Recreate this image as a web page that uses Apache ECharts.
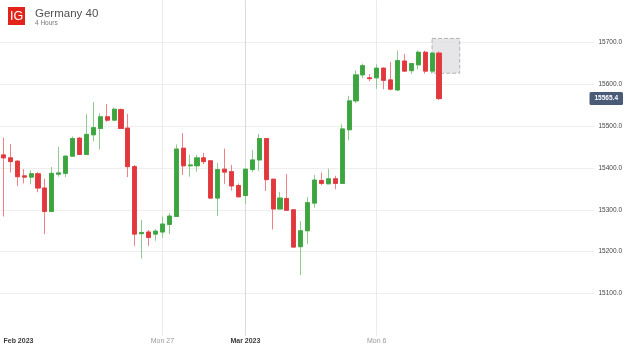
<!DOCTYPE html>
<html>
<head>
<meta charset="utf-8">
<script src="https://cdn.jsdelivr.net/npm/echarts@6/dist/echarts.min.js"></script>
<style>
  html, body { margin: 0; padding: 0; background: #fff; }
  #chart { width: 625px; height: 347px; }
</style>
</head>
<body>
<div id="chart"></div>
<script>
// 4 hour candles, Germany 40
var opens  = [15431,15424,15416,15381,15378,15386,15352,15296,15385,15387,15428,15471,15432,15479,15494,15522,
              15514,15539,15495,15403,15243,15247,15242,15247,15265,15284,15447,15405,15405,15424,15417,15328,
              15397,15391,15358,15334,15396,15419,15470,15373,15302,15327,15300,15212,15250,15316,15370,15362,
              15374,15363,15491,15560,15622,15615,15615,15638,15610,15586,15655,15632,15646,15676,15631,15674];
var closes = [15424,15415,15379,15378,15386,15352,15296,15387,15388,15428,15470,15432,15480,15496,15522,15514,
              15540,15494,15403,15242,15246,15234,15249,15266,15285,15445,15405,15407,15424,15415,15328,15396,
              15390,15357,15331,15397,15419,15470,15372,15302,15328,15299,15211,15250,15317,15371,15363,15374,
              15363,15493,15560,15622,15644,15613,15638,15609,15588,15656,15631,15649,15676,15631,15674,15565.4];
var lows   = [15284,15389,15357,15363,15361,15342,15242,15294,15379,15378,15427,15431,15431,15463,15444,15510,
              15513,15493,15378,15214,15184,15214,15226,15233,15242,15283,15383,15379,15391,15409,15327,15285,
              15362,15346,15330,15314,15390,15393,15345,15253,15301,15297,15210,15144,15218,15305,15359,15362,
              15349,15362,15466,15555,15614,15607,15589,15588,15585,15584,15629,15624,15635,15625,15626,15562];
var highs  = [15472,15457,15419,15397,15394,15390,15374,15402,15450,15430,15475,15474,15528,15557,15530,15552,
              15544,15542,15529,15407,15276,15252,15254,15284,15292,15456,15483,15431,15431,15436,15418,15412,
              15446,15407,15363,15398,15443,15481,15471,15374,15343,15385,15301,15273,15330,15383,15389,15398,
              15381,15504,15572,15633,15649,15624,15647,15640,15653,15680,15672,15650,15680,15680,15675,15678];
var lastPrice = 15565.4;

// x tick labels (index into the candle list) and y range
var xTickIndex = [0, 23, 35, 54];
var xTickText  = ['Feb 2023', 'Mon 27', 'Mar 2023', 'Mon 6'];
var xTickMajor = [true, false, true, false];
var yMin = 15000, yMax = 15800, yStep = 100;

// box near the last candles
var boxTop = 15709, boxBottom = 15626;

// candle times: 4h steps, market closed Saturday until Sunday 20:00
function buildTimes(count) {
  var out = [];
  var t = Date.UTC(2023, 1, 21, 8);
  while (out.length < count) {
    var d = new Date(t);
    var day = d.getUTCDay(), h = d.getUTCHours();
    if (!(day === 6 || (day === 0 && h < 20))) {
      out.push(d.toISOString().slice(0, 16).replace('T', ' '));
    }
    t += 4 * 3600 * 1000;
  }
  return out;
}
var times = buildTimes(86);

var wickData = opens.map(function (o, i) { return [o, closes[i], lows[i], highs[i]]; });
var bodyData = opens.map(function (o, i) {
  return [o, closes[i], Math.min(o, closes[i]), Math.max(o, closes[i])];
});

// vertical grid lines at the labelled days (not at the first label)
var dayLines = [];
xTickIndex.forEach(function (idx, k) {
  if (idx === 0) return;
  dayLines.push({ xAxis: times[idx], lineStyle: { color: xTickMajor[k] ? '#dadada' : '#ebebeb' } });
});

var font = 'Liberation Sans, Arial, sans-serif';
var chart = echarts.init(document.getElementById('chart'));

var option = {
  animation: false,
  textStyle: { fontFamily: font },
  title: {
    text: 'Germany 40',
    subtext: '4 Hours',
    left: 30,
    top: 3,
    itemGap: 0,
    textStyle: { fontSize: 11.5, fontWeight: 'normal', color: '#505050', fontFamily: font },
    subtextStyle: { fontSize: 6.5, color: '#777', fontFamily: font }
  },
  graphic: [{
    type: 'group',
    left: 8,
    top: 7,
    children: [
      { type: 'rect', shape: { x: 0, y: 0, width: 17, height: 18 }, style: { fill: '#e2231a' } },
      { type: 'text', x: 8.5, y: 9.5, style: { text: 'IG', fill: '#fff', fontSize: 12.5, fontFamily: font, align: 'center', verticalAlign: 'middle' } }
    ]
  }],
  grid: { left: -1.67, right: 30.26, top: 0.3, bottom: 11.5 },
  xAxis: {
    type: 'category',
    data: times,
    boundaryGap: true,
    axisLine: { show: false },
    axisTick: { show: false },
    splitLine: { show: false },
    axisLabel: {
      interval: function (index) { return xTickIndex.indexOf(index) >= 0; },
      margin: 2,
      fontSize: 7,
      alignMinLabel: 'left',
      formatter: function (v, index) {
        var k = xTickIndex.indexOf(index);
        if (k < 0) return '';
        return (xTickMajor[k] ? '{major|' : '{minor|') + xTickText[k] + '}';
      },
      rich: {
        major: { fontSize: 7, fontWeight: 'bold', color: '#3a3a3a', fontFamily: font },
        minor: { fontSize: 7, color: '#9a9a9a', fontFamily: font }
      }
    }
  },
  yAxis: {
    type: 'value',
    position: 'right',
    min: yMin,
    max: yMax,
    interval: yStep,
    axisLine: { show: false },
    axisTick: { show: false },
    axisLabel: {
      showMinLabel: false,
      showMaxLabel: false,
      margin: 4,
      fontSize: 6.5,
      color: '#444',
      formatter: function (v) { return v.toFixed(1); }
    },
    splitLine: { showMinLine: false, showMaxLine: false, lineStyle: { color: '#eeeeee', width: 1 } }
  },
  series: [
    {
      type: 'line',
      data: [],
      z: 1,
      silent: true,
      markLine: {
        z: 1,
        silent: true,
        symbol: 'none',
        label: { show: false },
        lineStyle: { type: 'solid', width: 1 },
        data: dayLines
      },
      markArea: {
        z: 1,
        silent: true,
        itemStyle: { color: 'rgba(226,226,229,0.85)', borderColor: '#b3b3b3', borderWidth: 1, borderType: 'dashed' },
        data: [[{ xAxis: times[62], yAxis: boxTop }, { xAxis: times[66], yAxis: boxBottom }]]
      }
    },
    {
      name: 'wick',
      type: 'candlestick',
      z: 2,
      barWidth: 4.6,
      silent: true,
      data: wickData,
      itemStyle: {
        color: '#8dcb8e', color0: '#ee8184',
        borderColor: '#8dcb8e', borderColor0: '#ee8184', borderWidth: 1
      }
    },
    {
      name: 'body',
      type: 'candlestick',
      z: 3,
      barWidth: 4.6,
      silent: true,
      data: bodyData,
      itemStyle: {
        color: '#3da53f', color0: '#e1383d',
        borderColor: '#3da53f', borderColor0: '#e1383d', borderWidth: 0.8
      },
      markLine: {
        silent: true,
        symbol: 'none',
        lineStyle: { color: 'rgba(0,0,0,0)', width: 1 },
        label: {
          show: true,
          position: 'end',
          distance: -5,
          formatter: function () { return lastPrice.toFixed(1); },
          backgroundColor: '#4a5b78',
          color: '#fff',
          fontWeight: 'bold',
          fontSize: 6.5,
          padding: [3, 5],
          borderRadius: 1.5
        },
        data: [{ yAxis: lastPrice }]
      }
    }
  ]
};

chart.setOption(option);
</script>
</body>
</html>
